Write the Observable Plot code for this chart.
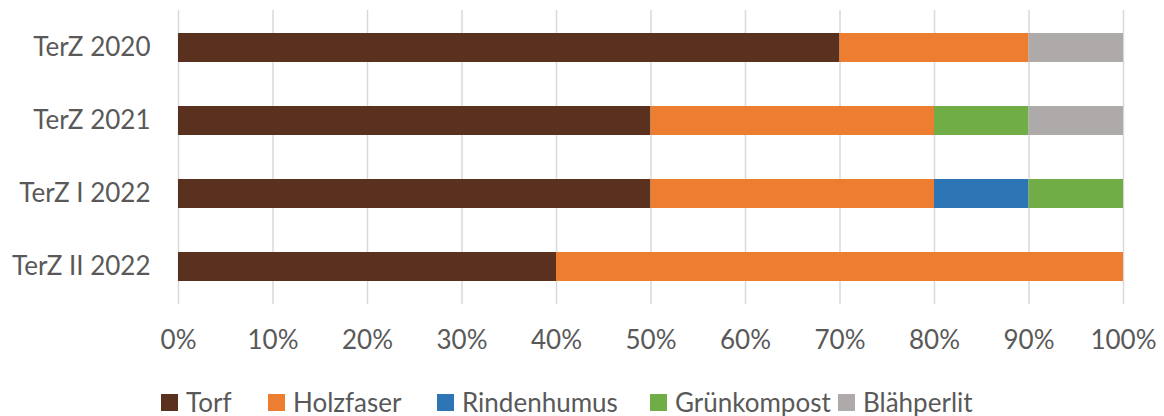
<!DOCTYPE html>
<html>
<head>
<meta charset="utf-8">
<script src="https://cdn.jsdelivr.net/npm/d3@7"></script>
<script src="https://cdn.jsdelivr.net/npm/@observablehq/plot@0.6"></script>
<style>
  html, body { margin: 0; padding: 0; background: #fff; }
  #wrap { position: relative; width: 1164px; height: 416px; font-family: Lato, "Open Sans", sans-serif; }
  #legend { position: absolute; left: 0; top: 388px; width: 1164px; height: 28px; }
  .item { position: absolute; top: 0; display: flex; align-items: center; height: 28px; font-size: 26px; color: #595959; }
  .sw { width: 17px; height: 17px; margin-right: 8px; }
</style>
</head>
<body>
<div id="wrap"></div>
<script>
const categories = ["TerZ 2020", "TerZ 2021", "TerZ I 2022", "TerZ II 2022"];
const series = ["Torf", "Holzfaser", "Rindenhumus", "Grünkompost", "Blähperlit"];
const torf        = [70, 50, 50, 40];
const holzfaser   = [20, 30, 30, 60];
const rindenhumus = [0, 0, 10, 0];
const gruenkompost= [0, 10, 10, 0];
const blaehperlit = [10, 10, 0, 0];
const colors = ["#5A311E", "#ED7D31", "#2E75B6", "#70AD47", "#AEAAAA"];
const xTicks = [0, 0.1, 0.2, 0.3, 0.4, 0.5, 0.6, 0.7, 0.8, 0.9, 1.0];

const valuesBySeries = [torf, holzfaser, rindenhumus, gruenkompost, blaehperlit];
const data = [];
series.forEach((s, si) => {
  categories.forEach((c, ci) => {
    data.push({ category: c, series: s, value: valuesBySeries[si][ci] / 100 });
  });
});

const chart = Plot.plot({
  width: 1164,
  height: 376,
  marginLeft: 178,
  marginRight: 41,
  marginTop: 10,
  marginBottom: 72,
  style: { fontFamily: "Lato, 'Open Sans', sans-serif", fontSize: "26px", color: "#595959", background: "#fff" },
  x: { domain: [0, 1], ticks: xTicks, tickFormat: d3.format(".0%"), label: null, tickSize: 0, tickPadding: 26, grid: false },
  y: { domain: categories, label: null, tickSize: 0, tickPadding: 28, paddingInner: 0.6, paddingOuter: 0.3 },
  color: { domain: series, range: colors },
  marks: [
    Plot.ruleX(xTicks, { stroke: "#D9D9D9", strokeWidth: 1.5 }),
    Plot.barX(data, Plot.stackX({ y: "category", x: "value", fill: "series", order: series })),
  ]
});
document.getElementById("wrap").appendChild(chart);

const legend = document.createElement("div");
legend.id = "legend";
const lefts = [161, 268, 437, 650, 838];
series.forEach((s, i) => {
  const it = document.createElement("div");
  it.className = "item";
  it.style.left = lefts[i] + "px";
  const sw = document.createElement("div");
  sw.className = "sw";
  sw.style.background = colors[i];
  it.appendChild(sw);
  const t = document.createElement("span");
  t.textContent = s;
  it.appendChild(t);
  legend.appendChild(it);
});
document.getElementById("wrap").appendChild(legend);
</script>
</body>
</html>
